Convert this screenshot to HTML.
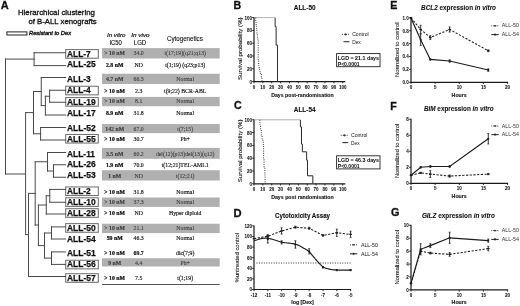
<!DOCTYPE html>
<html><head><meta charset="utf-8"><style>
html,body{margin:0;padding:0;background:#fff;overflow:hidden;}
svg{display:block;font-family:"Liberation Sans",sans-serif;}
</style></head><body>
<svg width="520" height="306" viewBox="0 0 520 306" fill="#111">
<defs><filter id="b" x="0" y="0" width="520" height="306" filterUnits="userSpaceOnUse"><feGaussianBlur stdDeviation="0.3"/></filter></defs>
<g filter="url(#b)">
<rect x="0" y="0" width="520" height="306" fill="#fff"/>
<text x="0.80" y="9.30" font-size="11.0" font-weight="bold" stroke="#111" stroke-width="0.3">A</text>
<text x="17.90" y="14.50" font-size="7.6" textLength="77.00" lengthAdjust="spacingAndGlyphs" stroke="#111" stroke-width="0.3">Hierarchical clustering</text>
<text x="28.50" y="24.30" font-size="7.5" textLength="68.20" lengthAdjust="spacingAndGlyphs" stroke="#111" stroke-width="0.3">of B-ALL xenografts</text>
<rect x="6.90" y="31.90" width="20.00" height="3.10" fill="#fff" stroke="#222" stroke-width="1.0"/>
<text x="29.00" y="35.40" font-size="5.6" font-style="italic" textLength="42.00" lengthAdjust="spacingAndGlyphs" stroke="#111" stroke-width="0.35">Resistant to Dex</text>
<text x="107.00" y="37.10" font-size="6.2" font-style="italic" textLength="18.50" lengthAdjust="spacingAndGlyphs" stroke="#111" stroke-width="0.2">In vitro</text>
<text x="109.40" y="44.60" font-size="6.4" textLength="12.40" lengthAdjust="spacingAndGlyphs" stroke="#111" stroke-width="0.12">IC50</text>
<text x="131.30" y="37.10" font-size="6.2" font-style="italic" textLength="18.30" lengthAdjust="spacingAndGlyphs" stroke="#111" stroke-width="0.2">In vivo</text>
<text x="133.80" y="44.60" font-size="6.4" textLength="12.40" lengthAdjust="spacingAndGlyphs" stroke="#111" stroke-width="0.12">LGD</text>
<text x="167.00" y="40.50" font-size="6.3" textLength="35.80" lengthAdjust="spacingAndGlyphs" stroke="#111" stroke-width="0.12">Cytogenetics</text>
<rect x="102.00" y="48.10" width="117.70" height="10.40" fill="#b0b0b0" stroke="none" stroke-width="1"/>
<rect x="102.00" y="73.75" width="117.70" height="10.25" fill="#b0b0b0" stroke="none" stroke-width="1"/>
<rect x="102.00" y="96.90" width="117.70" height="9.35" fill="#b0b0b0" stroke="none" stroke-width="1"/>
<rect x="102.00" y="124.00" width="117.70" height="9.10" fill="#b0b0b0" stroke="none" stroke-width="1"/>
<rect x="102.00" y="147.90" width="117.70" height="10.90" fill="#b0b0b0" stroke="none" stroke-width="1"/>
<rect x="102.00" y="170.20" width="117.70" height="10.30" fill="#b0b0b0" stroke="none" stroke-width="1"/>
<rect x="102.00" y="197.50" width="117.70" height="9.40" fill="#b0b0b0" stroke="none" stroke-width="1"/>
<rect x="102.00" y="223.75" width="117.70" height="9.35" fill="#b0b0b0" stroke="none" stroke-width="1"/>
<rect x="102.00" y="258.25" width="117.70" height="8.25" fill="#b0b0b0" stroke="none" stroke-width="1"/>
<line x1="102.00" y1="284.50" x2="219.70" y2="284.50" stroke="#555" stroke-width="1.0"/>
<text x="114.70" y="55.30" font-size="5.8" font-weight="bold" text-anchor="middle" font-family="Liberation Serif" stroke="#3a3a3a" stroke-width="0.12" fill="#3a3a3a">&gt; 10 nM</text>
<text x="138.70" y="55.30" font-size="5.8" text-anchor="middle" font-family="Liberation Serif" stroke="#3a3a3a" stroke-width="0.08" fill="#3a3a3a">34.0</text>
<text x="185.20" y="55.30" font-size="5.8" text-anchor="middle" font-family="Liberation Serif" stroke="#3a3a3a" stroke-width="0.08" fill="#3a3a3a">t(17;19)(q21;q13)</text>
<text x="114.70" y="67.25" font-size="5.8" font-weight="bold" text-anchor="middle" font-family="Liberation Serif" stroke="#111" stroke-width="0.22">2.8 nM</text>
<text x="138.70" y="67.25" font-size="5.8" text-anchor="middle" font-family="Liberation Serif" stroke="#111" stroke-width="0.15">ND</text>
<text x="185.20" y="67.25" font-size="5.8" text-anchor="middle" font-family="Liberation Serif" stroke="#111" stroke-width="0.15">t(1;19) (q23;p13)</text>
<text x="114.70" y="81.20" font-size="5.8" font-weight="bold" text-anchor="middle" font-family="Liberation Serif" stroke="#3a3a3a" stroke-width="0.12" fill="#3a3a3a">4.7 nM</text>
<text x="138.70" y="81.20" font-size="5.8" text-anchor="middle" font-family="Liberation Serif" stroke="#3a3a3a" stroke-width="0.08" fill="#3a3a3a">66.3</text>
<text x="185.20" y="81.20" font-size="5.8" text-anchor="middle" font-family="Liberation Serif" stroke="#3a3a3a" stroke-width="0.08" fill="#3a3a3a">Normal</text>
<text x="114.70" y="92.60" font-size="5.8" font-weight="bold" text-anchor="middle" font-family="Liberation Serif" stroke="#111" stroke-width="0.22">&gt; 10 nM</text>
<text x="138.70" y="92.60" font-size="5.8" text-anchor="middle" font-family="Liberation Serif" stroke="#111" stroke-width="0.15">2.3</text>
<text x="185.20" y="92.60" font-size="5.8" text-anchor="middle" font-family="Liberation Serif" stroke="#111" stroke-width="0.15">t(9;22) BCR-ABL</text>
<text x="114.70" y="102.90" font-size="5.8" font-weight="bold" text-anchor="middle" font-family="Liberation Serif" stroke="#3a3a3a" stroke-width="0.12" fill="#3a3a3a">&gt; 10 nM</text>
<text x="138.70" y="102.90" font-size="5.8" text-anchor="middle" font-family="Liberation Serif" stroke="#3a3a3a" stroke-width="0.08" fill="#3a3a3a">8.1</text>
<text x="185.20" y="102.90" font-size="5.8" text-anchor="middle" font-family="Liberation Serif" stroke="#3a3a3a" stroke-width="0.08" fill="#3a3a3a">Normal</text>
<text x="114.70" y="114.50" font-size="5.8" font-weight="bold" text-anchor="middle" font-family="Liberation Serif" stroke="#111" stroke-width="0.22">8.9 nM</text>
<text x="138.70" y="114.50" font-size="5.8" text-anchor="middle" font-family="Liberation Serif" stroke="#111" stroke-width="0.15">31.8</text>
<text x="185.20" y="114.50" font-size="5.8" text-anchor="middle" font-family="Liberation Serif" stroke="#111" stroke-width="0.15">Normal</text>
<text x="114.70" y="130.60" font-size="5.8" font-weight="bold" text-anchor="middle" font-family="Liberation Serif" stroke="#3a3a3a" stroke-width="0.12" fill="#3a3a3a">142 nM</text>
<text x="138.70" y="130.60" font-size="5.8" text-anchor="middle" font-family="Liberation Serif" stroke="#3a3a3a" stroke-width="0.08" fill="#3a3a3a">67.0</text>
<text x="185.20" y="130.60" font-size="5.8" text-anchor="middle" font-family="Liberation Serif" stroke="#3a3a3a" stroke-width="0.08" fill="#3a3a3a">t(7;15)</text>
<text x="114.70" y="141.00" font-size="5.8" font-weight="bold" text-anchor="middle" font-family="Liberation Serif" stroke="#111" stroke-width="0.22">&gt; 10 nM</text>
<text x="138.70" y="141.00" font-size="5.8" text-anchor="middle" font-family="Liberation Serif" stroke="#111" stroke-width="0.15">30.7</text>
<text x="185.20" y="141.00" font-size="5.8" text-anchor="middle" font-family="Liberation Serif" stroke="#111" stroke-width="0.15">Ph+</text>
<text x="114.70" y="156.30" font-size="5.8" font-weight="bold" text-anchor="middle" font-family="Liberation Serif" stroke="#3a3a3a" stroke-width="0.12" fill="#3a3a3a">3.5 nM</text>
<text x="138.70" y="156.30" font-size="5.8" text-anchor="middle" font-family="Liberation Serif" stroke="#3a3a3a" stroke-width="0.08" fill="#3a3a3a">60.2</text>
<text x="185.20" y="156.30" font-size="5.8" text-anchor="middle" font-family="Liberation Serif" stroke="#3a3a3a" stroke-width="0.08" fill="#3a3a3a">del(12)(p13)del(13)(q12)</text>
<text x="114.70" y="167.00" font-size="5.8" font-weight="bold" text-anchor="middle" font-family="Liberation Serif" stroke="#111" stroke-width="0.22">1.9 nM</text>
<text x="138.70" y="167.00" font-size="5.8" text-anchor="middle" font-family="Liberation Serif" stroke="#111" stroke-width="0.15">70.0</text>
<text x="185.20" y="167.00" font-size="5.8" text-anchor="middle" font-family="Liberation Serif" stroke="#111" stroke-width="0.15">t(12;21)TEL-AML1</text>
<text x="114.70" y="177.60" font-size="5.8" font-weight="bold" text-anchor="middle" font-family="Liberation Serif" stroke="#3a3a3a" stroke-width="0.12" fill="#3a3a3a">1 nM</text>
<text x="138.70" y="177.60" font-size="5.8" text-anchor="middle" font-family="Liberation Serif" stroke="#3a3a3a" stroke-width="0.08" fill="#3a3a3a">ND</text>
<text x="185.20" y="177.60" font-size="5.8" text-anchor="middle" font-family="Liberation Serif" stroke="#3a3a3a" stroke-width="0.08" fill="#3a3a3a">t(12;21)</text>
<text x="114.70" y="194.30" font-size="5.8" font-weight="bold" text-anchor="middle" font-family="Liberation Serif" stroke="#111" stroke-width="0.22">&gt; 10 nM</text>
<text x="138.70" y="194.30" font-size="5.8" text-anchor="middle" font-family="Liberation Serif" stroke="#111" stroke-width="0.15">31.8</text>
<text x="185.20" y="194.30" font-size="5.8" text-anchor="middle" font-family="Liberation Serif" stroke="#111" stroke-width="0.15">Normal</text>
<text x="114.70" y="203.70" font-size="5.8" font-weight="bold" text-anchor="middle" font-family="Liberation Serif" stroke="#3a3a3a" stroke-width="0.12" fill="#3a3a3a">&gt; 10 nM</text>
<text x="138.70" y="203.70" font-size="5.8" text-anchor="middle" font-family="Liberation Serif" stroke="#3a3a3a" stroke-width="0.08" fill="#3a3a3a">37.3</text>
<text x="185.20" y="203.70" font-size="5.8" text-anchor="middle" font-family="Liberation Serif" stroke="#3a3a3a" stroke-width="0.08" fill="#3a3a3a">Normal</text>
<text x="114.70" y="214.50" font-size="5.8" font-weight="bold" text-anchor="middle" font-family="Liberation Serif" stroke="#111" stroke-width="0.22">&gt; 10 nM</text>
<text x="138.70" y="214.50" font-size="5.8" text-anchor="middle" font-family="Liberation Serif" stroke="#111" stroke-width="0.15">ND</text>
<text x="185.20" y="214.50" font-size="5.8" text-anchor="middle" font-family="Liberation Serif" stroke="#111" stroke-width="0.15">Hyper diploid</text>
<text x="114.70" y="230.10" font-size="5.8" font-weight="bold" text-anchor="middle" font-family="Liberation Serif" stroke="#3a3a3a" stroke-width="0.12" fill="#3a3a3a">&gt; 10 nM</text>
<text x="138.70" y="230.10" font-size="5.8" text-anchor="middle" font-family="Liberation Serif" stroke="#3a3a3a" stroke-width="0.08" fill="#3a3a3a">21.1</text>
<text x="185.20" y="230.10" font-size="5.8" text-anchor="middle" font-family="Liberation Serif" stroke="#3a3a3a" stroke-width="0.08" fill="#3a3a3a">Normal</text>
<text x="114.70" y="239.90" font-size="5.8" font-weight="bold" text-anchor="middle" font-family="Liberation Serif" stroke="#111" stroke-width="0.22">59 nM</text>
<text x="138.70" y="239.90" font-size="5.8" text-anchor="middle" font-family="Liberation Serif" stroke="#111" stroke-width="0.15">46.3</text>
<text x="185.20" y="239.90" font-size="5.8" text-anchor="middle" font-family="Liberation Serif" stroke="#111" stroke-width="0.15">Normal</text>
<text x="114.70" y="254.90" font-size="5.8" font-weight="bold" text-anchor="middle" font-family="Liberation Serif" stroke="#111" stroke-width="0.22">&gt; 10 nM</text>
<text x="138.70" y="254.90" font-size="5.8" font-weight="bold" text-anchor="middle" font-family="Liberation Serif" stroke="#111" stroke-width="0.15">69.7</text>
<text x="185.20" y="254.90" font-size="5.8" text-anchor="middle" font-family="Liberation Serif" stroke="#111" stroke-width="0.15">dic(7;9)</text>
<text x="114.70" y="265.40" font-size="5.8" font-weight="bold" text-anchor="middle" font-family="Liberation Serif" stroke="#3a3a3a" stroke-width="0.12" fill="#3a3a3a">9 nM</text>
<text x="138.70" y="265.40" font-size="5.8" text-anchor="middle" font-family="Liberation Serif" stroke="#3a3a3a" stroke-width="0.08" fill="#3a3a3a">4.4</text>
<text x="185.20" y="265.40" font-size="5.8" text-anchor="middle" font-family="Liberation Serif" stroke="#3a3a3a" stroke-width="0.08" fill="#3a3a3a">Ph+</text>
<text x="114.70" y="279.75" font-size="5.8" font-weight="bold" text-anchor="middle" font-family="Liberation Serif" stroke="#111" stroke-width="0.22">&gt; 10 nM</text>
<text x="138.70" y="279.75" font-size="5.8" text-anchor="middle" font-family="Liberation Serif" stroke="#111" stroke-width="0.15">7.5</text>
<text x="185.20" y="279.75" font-size="5.8" text-anchor="middle" font-family="Liberation Serif" stroke="#111" stroke-width="0.15">t(1;19)</text>
<rect x="65.70" y="49.60" width="32.60" height="8.60" fill="#fff" stroke="#6a6a6a" stroke-width="1.0"/>
<text x="67.00" y="56.75" font-size="8.6" font-weight="bold" textLength="23.75" lengthAdjust="spacingAndGlyphs" stroke="#111" stroke-width="0.25">ALL-7</text>
<text x="67.00" y="67.25" font-size="8.6" font-weight="bold" textLength="28.70" lengthAdjust="spacingAndGlyphs" stroke="#111" stroke-width="0.25">ALL-25</text>
<text x="67.00" y="81.65" font-size="8.6" font-weight="bold" textLength="23.75" lengthAdjust="spacingAndGlyphs" stroke="#111" stroke-width="0.25">ALL-3</text>
<rect x="65.70" y="86.25" width="32.60" height="8.60" fill="#fff" stroke="#6a6a6a" stroke-width="1.0"/>
<text x="67.00" y="93.40" font-size="8.6" font-weight="bold" textLength="23.75" lengthAdjust="spacingAndGlyphs" stroke="#111" stroke-width="0.25">ALL-4</text>
<rect x="65.70" y="97.60" width="32.60" height="8.60" fill="#fff" stroke="#6a6a6a" stroke-width="1.0"/>
<text x="67.00" y="104.75" font-size="8.6" font-weight="bold" textLength="28.70" lengthAdjust="spacingAndGlyphs" stroke="#111" stroke-width="0.25">ALL-19</text>
<text x="67.00" y="115.80" font-size="8.6" font-weight="bold" textLength="28.70" lengthAdjust="spacingAndGlyphs" stroke="#111" stroke-width="0.25">ALL-17</text>
<text x="67.00" y="131.05" font-size="8.6" font-weight="bold" textLength="28.70" lengthAdjust="spacingAndGlyphs" stroke="#111" stroke-width="0.25">ALL-52</text>
<rect x="65.70" y="134.45" width="32.60" height="8.60" fill="#fff" stroke="#6a6a6a" stroke-width="1.0"/>
<text x="67.00" y="141.60" font-size="8.6" font-weight="bold" textLength="28.70" lengthAdjust="spacingAndGlyphs" stroke="#111" stroke-width="0.25">ALL-55</text>
<text x="67.00" y="156.60" font-size="8.6" font-weight="bold" textLength="28.04" lengthAdjust="spacingAndGlyphs" stroke="#111" stroke-width="0.25">ALL-11</text>
<text x="67.00" y="167.45" font-size="8.6" font-weight="bold" textLength="28.70" lengthAdjust="spacingAndGlyphs" stroke="#111" stroke-width="0.25">ALL-26</text>
<text x="67.00" y="178.30" font-size="8.6" font-weight="bold" textLength="28.70" lengthAdjust="spacingAndGlyphs" stroke="#111" stroke-width="0.25">ALL-53</text>
<rect x="65.70" y="186.95" width="32.60" height="8.60" fill="#fff" stroke="#6a6a6a" stroke-width="1.0"/>
<text x="67.00" y="194.10" font-size="8.6" font-weight="bold" textLength="23.75" lengthAdjust="spacingAndGlyphs" stroke="#111" stroke-width="0.25">ALL-2</text>
<rect x="65.70" y="197.80" width="32.60" height="8.60" fill="#fff" stroke="#6a6a6a" stroke-width="1.0"/>
<text x="67.00" y="204.95" font-size="8.6" font-weight="bold" textLength="28.70" lengthAdjust="spacingAndGlyphs" stroke="#111" stroke-width="0.25">ALL-10</text>
<rect x="65.70" y="208.70" width="32.60" height="8.60" fill="#fff" stroke="#6a6a6a" stroke-width="1.0"/>
<text x="67.00" y="215.85" font-size="8.6" font-weight="bold" textLength="28.70" lengthAdjust="spacingAndGlyphs" stroke="#111" stroke-width="0.25">ALL-28</text>
<rect x="65.70" y="223.65" width="32.60" height="8.60" fill="#fff" stroke="#6a6a6a" stroke-width="1.0"/>
<text x="67.00" y="230.80" font-size="8.6" font-weight="bold" textLength="28.70" lengthAdjust="spacingAndGlyphs" stroke="#111" stroke-width="0.25">ALL-50</text>
<text x="67.00" y="241.60" font-size="8.6" font-weight="bold" textLength="28.70" lengthAdjust="spacingAndGlyphs" stroke="#111" stroke-width="0.25">ALL-54</text>
<text x="67.00" y="256.25" font-size="8.6" font-weight="bold" textLength="28.70" lengthAdjust="spacingAndGlyphs" stroke="#111" stroke-width="0.25">ALL-51</text>
<rect x="65.70" y="260.25" width="32.60" height="8.60" fill="#fff" stroke="#6a6a6a" stroke-width="1.0"/>
<text x="67.00" y="267.40" font-size="8.6" font-weight="bold" textLength="28.70" lengthAdjust="spacingAndGlyphs" stroke="#111" stroke-width="0.25">ALL-56</text>
<rect x="65.70" y="273.70" width="32.60" height="8.60" fill="#fff" stroke="#6a6a6a" stroke-width="1.0"/>
<text x="67.00" y="280.85" font-size="8.6" font-weight="bold" textLength="28.70" lengthAdjust="spacingAndGlyphs" stroke="#111" stroke-width="0.25">ALL-57</text>
<path d="M34.1,52.75V65.6M34.1,52.75H65.6M34.1,65.6H65.6M5.5,59.1V174M5.5,59.1H34.1M5.5,174H25.6M49.6,90.25V102.25M49.6,90.25H65.6M49.6,102.25H65.6M45.4,96.25V115M45.4,96.25H49.6M45.4,115H65.6M41.25,77.5V105.6M41.25,77.5H65.6M41.25,105.6H45.4M33.5,91.5V133.75M33.5,91.5H41.25M40.6,127.5V140M40.6,127.5H65.6M40.6,140H65.6M33.5,133.75H40.6M25.6,112.6V234.6M25.6,112.6H33.5M25.6,234.6H28.5M53.5,164.75V177.25M53.5,164.75H65.6M53.5,177.25H65.6M47.5,152.5V171M47.5,152.5H65.6M47.5,171H53.5M35.2,161.75V225M35.2,161.75H47.5M49.75,189.4V202.25M49.75,189.4H65.6M49.75,202.25H65.6M46.25,195.8V214M46.25,195.8H49.75M46.25,214H65.6M38.4,205V245.6M38.4,205H46.25M35.2,225H38.4M51.5,226.9V239M51.5,226.9H65.6M51.5,239H65.6M51.5,251.9V264.4M51.5,251.9H65.6M51.5,264.4H65.6M44.5,233V258.1M44.5,233H51.5M44.5,258.1H51.5M38.4,245.6H44.5M28.5,193.4V276.5M28.5,193.4H35.2M28.5,276.5H65.6" fill="none" stroke="#4a4a4a" stroke-width="1.0" stroke-linecap="square"/>
<text x="233.60" y="8.70" font-size="10.6" font-weight="bold" stroke="#111" stroke-width="0.3">B</text>
<text x="293.80" y="10.00" font-size="6.5" font-weight="bold" textLength="21.80" lengthAdjust="spacingAndGlyphs" stroke="#111" stroke-width="0.1">ALL-50</text>
<path d="M254.0,17.1V81.6H345.361" fill="none" stroke="#1a1a1a" stroke-width="1.2"/>
<line x1="252.10" y1="81.60" x2="254.00" y2="81.60" stroke="#1a1a1a" stroke-width="0.9"/>
<text x="251.90" y="83.50" font-size="4.5" font-weight="bold" text-anchor="end" stroke="#111" stroke-width="0.05">0</text>
<line x1="252.10" y1="68.80" x2="254.00" y2="68.80" stroke="#1a1a1a" stroke-width="0.9"/>
<text x="251.90" y="70.70" font-size="4.5" font-weight="bold" text-anchor="end" stroke="#111" stroke-width="0.05">20</text>
<line x1="252.10" y1="56.00" x2="254.00" y2="56.00" stroke="#1a1a1a" stroke-width="0.9"/>
<text x="251.90" y="57.90" font-size="4.5" font-weight="bold" text-anchor="end" stroke="#111" stroke-width="0.05">40</text>
<line x1="252.10" y1="43.20" x2="254.00" y2="43.20" stroke="#1a1a1a" stroke-width="0.9"/>
<text x="251.90" y="45.10" font-size="4.5" font-weight="bold" text-anchor="end" stroke="#111" stroke-width="0.05">60</text>
<line x1="252.10" y1="30.40" x2="254.00" y2="30.40" stroke="#1a1a1a" stroke-width="0.9"/>
<text x="251.90" y="32.30" font-size="4.5" font-weight="bold" text-anchor="end" stroke="#111" stroke-width="0.05">80</text>
<line x1="252.10" y1="17.60" x2="254.00" y2="17.60" stroke="#1a1a1a" stroke-width="0.9"/>
<text x="251.90" y="19.50" font-size="4.5" font-weight="bold" text-anchor="end" stroke="#111" stroke-width="0.05">100</text>
<line x1="254.00" y1="81.60" x2="254.00" y2="83.30" stroke="#1a1a1a" stroke-width="0.9"/>
<text x="254.00" y="88.60" font-size="4.5" font-weight="bold" text-anchor="middle" stroke="#111" stroke-width="0.05">0</text>
<line x1="262.87" y1="81.60" x2="262.87" y2="83.30" stroke="#1a1a1a" stroke-width="0.9"/>
<text x="262.87" y="88.60" font-size="4.5" font-weight="bold" text-anchor="middle" stroke="#111" stroke-width="0.05">10</text>
<line x1="271.74" y1="81.60" x2="271.74" y2="83.30" stroke="#1a1a1a" stroke-width="0.9"/>
<text x="271.74" y="88.60" font-size="4.5" font-weight="bold" text-anchor="middle" stroke="#111" stroke-width="0.05">20</text>
<line x1="280.61" y1="81.60" x2="280.61" y2="83.30" stroke="#1a1a1a" stroke-width="0.9"/>
<text x="280.61" y="88.60" font-size="4.5" font-weight="bold" text-anchor="middle" stroke="#111" stroke-width="0.05">30</text>
<line x1="289.48" y1="81.60" x2="289.48" y2="83.30" stroke="#1a1a1a" stroke-width="0.9"/>
<text x="289.48" y="88.60" font-size="4.5" font-weight="bold" text-anchor="middle" stroke="#111" stroke-width="0.05">40</text>
<line x1="298.35" y1="81.60" x2="298.35" y2="83.30" stroke="#1a1a1a" stroke-width="0.9"/>
<text x="298.35" y="88.60" font-size="4.5" font-weight="bold" text-anchor="middle" stroke="#111" stroke-width="0.05">50</text>
<line x1="307.22" y1="81.60" x2="307.22" y2="83.30" stroke="#1a1a1a" stroke-width="0.9"/>
<text x="307.22" y="88.60" font-size="4.5" font-weight="bold" text-anchor="middle" stroke="#111" stroke-width="0.05">60</text>
<line x1="316.09" y1="81.60" x2="316.09" y2="83.30" stroke="#1a1a1a" stroke-width="0.9"/>
<text x="316.09" y="88.60" font-size="4.5" font-weight="bold" text-anchor="middle" stroke="#111" stroke-width="0.05">70</text>
<line x1="324.96" y1="81.60" x2="324.96" y2="83.30" stroke="#1a1a1a" stroke-width="0.9"/>
<text x="324.96" y="88.60" font-size="4.5" font-weight="bold" text-anchor="middle" stroke="#111" stroke-width="0.05">80</text>
<line x1="333.83" y1="81.60" x2="333.83" y2="83.30" stroke="#1a1a1a" stroke-width="0.9"/>
<text x="333.83" y="88.60" font-size="4.5" font-weight="bold" text-anchor="middle" stroke="#111" stroke-width="0.05">90</text>
<line x1="342.70" y1="81.60" x2="342.70" y2="83.30" stroke="#1a1a1a" stroke-width="0.9"/>
<text x="342.70" y="88.60" font-size="4.5" font-weight="bold" text-anchor="middle" stroke="#111" stroke-width="0.05">100</text>
<text x="271.20" y="96.60" font-size="5.4" font-weight="bold" textLength="62.50" lengthAdjust="spacingAndGlyphs" stroke="#111" stroke-width="0.1">Days post-randomisation</text>
<text transform="translate(241.90,48.70) rotate(-90)" font-size="6.1" stroke="#111" stroke-width="0.1" text-anchor="middle" textLength="62.7" lengthAdjust="spacingAndGlyphs">Survival probability (%)</text>
<path d="M275.14,17.60H275.14V26.56H276.12V26.56H276.12V45.12H277.54V45.12H277.54V81.60" fill="none" stroke="#2a2a2a" stroke-width="1.0"/>
<line x1="254.50" y1="17.60" x2="274.84" y2="17.60" stroke="#b0b0b0" stroke-width="1.0"/>
<path d="M255.72,17.60H255.72V17.60H255.72V22.08H256.16V22.08H256.16V26.56H256.61V26.56H256.61V30.40H256.96V30.40H256.96V33.60H257.40V33.60H257.40V37.44H257.85V37.44H257.85V40.64H258.20V40.64H258.20V59.84H258.65V59.84H258.65V65.60H259.18V65.60H259.18V68.80H259.71V68.80H259.71V71.36H260.33V71.36H260.33V73.92H261.40V73.92H261.40V78.40H262.02V78.40H262.02V81.60" fill="none" stroke="#333" stroke-width="1.0" stroke-dasharray="1.0,1.3"/>
<path d="M341.9,34.4H349.4" fill="none" stroke="#333" stroke-width="0.9" stroke-dasharray="1,1"/>
<line x1="345.60" y1="33.20" x2="345.60" y2="35.60" stroke="#333" stroke-width="0.8"/>
<line x1="344.40" y1="34.40" x2="346.80" y2="34.40" stroke="#333" stroke-width="1.0"/>
<text x="352.20" y="36.40" font-size="5.3" textLength="16.40" lengthAdjust="spacingAndGlyphs">Control</text>
<line x1="343.50" y1="41.70" x2="349.40" y2="41.70" stroke="#333" stroke-width="1.1"/>
<text x="352.20" y="43.60" font-size="5.3" textLength="8.60" lengthAdjust="spacingAndGlyphs">Dex</text>
<rect x="336.60" y="53.60" width="43.40" height="13.10" fill="#fff" stroke="#222" stroke-width="0.9"/>
<text x="337.80" y="59.70" font-size="5.3" font-weight="bold" textLength="41.20" lengthAdjust="spacingAndGlyphs" stroke="#111" stroke-width="0.03">LGD = 21.1 days</text>
<text x="337.80" y="65.50" font-size="5.3" font-weight="bold" textLength="21.80" lengthAdjust="spacingAndGlyphs" stroke="#111" stroke-width="0.03">P&lt;0.0001</text>
<text x="234.00" y="109.30" font-size="10.6" font-weight="bold" stroke="#111" stroke-width="0.3">C</text>
<text x="293.80" y="112.20" font-size="6.5" font-weight="bold" textLength="21.80" lengthAdjust="spacingAndGlyphs" stroke="#111" stroke-width="0.1">ALL-54</text>
<path d="M254.0,119.30000000000001V183.8H345.361" fill="none" stroke="#1a1a1a" stroke-width="1.2"/>
<line x1="252.10" y1="183.80" x2="254.00" y2="183.80" stroke="#1a1a1a" stroke-width="0.9"/>
<text x="251.90" y="185.70" font-size="4.5" font-weight="bold" text-anchor="end" stroke="#111" stroke-width="0.05">0</text>
<line x1="252.10" y1="171.00" x2="254.00" y2="171.00" stroke="#1a1a1a" stroke-width="0.9"/>
<text x="251.90" y="172.90" font-size="4.5" font-weight="bold" text-anchor="end" stroke="#111" stroke-width="0.05">20</text>
<line x1="252.10" y1="158.20" x2="254.00" y2="158.20" stroke="#1a1a1a" stroke-width="0.9"/>
<text x="251.90" y="160.10" font-size="4.5" font-weight="bold" text-anchor="end" stroke="#111" stroke-width="0.05">40</text>
<line x1="252.10" y1="145.40" x2="254.00" y2="145.40" stroke="#1a1a1a" stroke-width="0.9"/>
<text x="251.90" y="147.30" font-size="4.5" font-weight="bold" text-anchor="end" stroke="#111" stroke-width="0.05">60</text>
<line x1="252.10" y1="132.60" x2="254.00" y2="132.60" stroke="#1a1a1a" stroke-width="0.9"/>
<text x="251.90" y="134.50" font-size="4.5" font-weight="bold" text-anchor="end" stroke="#111" stroke-width="0.05">80</text>
<line x1="252.10" y1="119.80" x2="254.00" y2="119.80" stroke="#1a1a1a" stroke-width="0.9"/>
<text x="251.90" y="121.70" font-size="4.5" font-weight="bold" text-anchor="end" stroke="#111" stroke-width="0.05">100</text>
<line x1="254.00" y1="183.80" x2="254.00" y2="185.50" stroke="#1a1a1a" stroke-width="0.9"/>
<text x="254.00" y="190.80" font-size="4.5" font-weight="bold" text-anchor="middle" stroke="#111" stroke-width="0.05">0</text>
<line x1="262.87" y1="183.80" x2="262.87" y2="185.50" stroke="#1a1a1a" stroke-width="0.9"/>
<text x="262.87" y="190.80" font-size="4.5" font-weight="bold" text-anchor="middle" stroke="#111" stroke-width="0.05">10</text>
<line x1="271.74" y1="183.80" x2="271.74" y2="185.50" stroke="#1a1a1a" stroke-width="0.9"/>
<text x="271.74" y="190.80" font-size="4.5" font-weight="bold" text-anchor="middle" stroke="#111" stroke-width="0.05">20</text>
<line x1="280.61" y1="183.80" x2="280.61" y2="185.50" stroke="#1a1a1a" stroke-width="0.9"/>
<text x="280.61" y="190.80" font-size="4.5" font-weight="bold" text-anchor="middle" stroke="#111" stroke-width="0.05">30</text>
<line x1="289.48" y1="183.80" x2="289.48" y2="185.50" stroke="#1a1a1a" stroke-width="0.9"/>
<text x="289.48" y="190.80" font-size="4.5" font-weight="bold" text-anchor="middle" stroke="#111" stroke-width="0.05">40</text>
<line x1="298.35" y1="183.80" x2="298.35" y2="185.50" stroke="#1a1a1a" stroke-width="0.9"/>
<text x="298.35" y="190.80" font-size="4.5" font-weight="bold" text-anchor="middle" stroke="#111" stroke-width="0.05">50</text>
<line x1="307.22" y1="183.80" x2="307.22" y2="185.50" stroke="#1a1a1a" stroke-width="0.9"/>
<text x="307.22" y="190.80" font-size="4.5" font-weight="bold" text-anchor="middle" stroke="#111" stroke-width="0.05">60</text>
<line x1="316.09" y1="183.80" x2="316.09" y2="185.50" stroke="#1a1a1a" stroke-width="0.9"/>
<text x="316.09" y="190.80" font-size="4.5" font-weight="bold" text-anchor="middle" stroke="#111" stroke-width="0.05">70</text>
<line x1="324.96" y1="183.80" x2="324.96" y2="185.50" stroke="#1a1a1a" stroke-width="0.9"/>
<text x="324.96" y="190.80" font-size="4.5" font-weight="bold" text-anchor="middle" stroke="#111" stroke-width="0.05">80</text>
<line x1="333.83" y1="183.80" x2="333.83" y2="185.50" stroke="#1a1a1a" stroke-width="0.9"/>
<text x="333.83" y="190.80" font-size="4.5" font-weight="bold" text-anchor="middle" stroke="#111" stroke-width="0.05">90</text>
<line x1="342.70" y1="183.80" x2="342.70" y2="185.50" stroke="#1a1a1a" stroke-width="0.9"/>
<text x="342.70" y="190.80" font-size="4.5" font-weight="bold" text-anchor="middle" stroke="#111" stroke-width="0.05">100</text>
<text x="271.20" y="198.80" font-size="5.4" font-weight="bold" textLength="62.50" lengthAdjust="spacingAndGlyphs" stroke="#111" stroke-width="0.1">Days post randomisation</text>
<text transform="translate(241.90,150.90) rotate(-90)" font-size="6.1" stroke="#111" stroke-width="0.1" text-anchor="middle" textLength="62.7" lengthAdjust="spacingAndGlyphs">Survival probability (%)</text>
<path d="M300.42,119.80H300.42V126.84H301.49V126.84H301.49V144.12H302.38V144.12H302.38V151.80H306.63V151.80H306.63V160.12H307.52V160.12H307.52V175.80H312.84V175.80H312.84V183.80" fill="none" stroke="#2a2a2a" stroke-width="1.0"/>
<line x1="254.50" y1="119.80" x2="300.12" y2="119.80" stroke="#b0b0b0" stroke-width="1.0"/>
<path d="M259.89,119.80H259.89V119.80H259.89V124.92H260.60V124.92H260.60V130.04H261.22V130.04H261.22V135.16H262.11V135.16H262.11V140.28H263.26V140.28H263.26V146.04H263.61V146.04H263.61V158.20H264.06V158.20H264.06V167.80H264.86V167.80H264.86V174.84H265.12V174.84H265.12V183.80" fill="none" stroke="#333" stroke-width="1.0" stroke-dasharray="1.0,1.3"/>
<path d="M340.7,135.3H348.2" fill="none" stroke="#333" stroke-width="0.9" stroke-dasharray="1,1"/>
<line x1="344.40" y1="134.10" x2="344.40" y2="136.50" stroke="#333" stroke-width="0.8"/>
<line x1="343.20" y1="135.30" x2="345.60" y2="135.30" stroke="#333" stroke-width="1.0"/>
<text x="351.00" y="137.30" font-size="5.3" textLength="16.40" lengthAdjust="spacingAndGlyphs">Control</text>
<line x1="342.30" y1="142.60" x2="348.20" y2="142.60" stroke="#333" stroke-width="1.1"/>
<text x="351.00" y="144.50" font-size="5.3" textLength="8.60" lengthAdjust="spacingAndGlyphs">Dex</text>
<rect x="336.60" y="155.80" width="43.40" height="13.10" fill="#fff" stroke="#222" stroke-width="0.9"/>
<text x="337.80" y="162.30" font-size="5.3" font-weight="bold" textLength="41.20" lengthAdjust="spacingAndGlyphs" stroke="#111" stroke-width="0.03">LGD = 46.3 days</text>
<text x="337.80" y="168.10" font-size="5.3" font-weight="bold" textLength="21.80" lengthAdjust="spacingAndGlyphs" stroke="#111" stroke-width="0.03">P&lt;0.0001</text>
<text x="233.40" y="216.80" font-size="11.2" font-weight="bold" stroke="#111" stroke-width="0.3">D</text>
<text x="275.00" y="218.10" font-size="6.3" font-weight="bold" textLength="55.00" lengthAdjust="spacingAndGlyphs" stroke="#111" stroke-width="0.1">Cytotoxicity Assay</text>
<path d="M254.0,225.4V289.5H351.1" fill="none" stroke="#1a1a1a" stroke-width="1.2"/>
<line x1="252.10" y1="289.50" x2="254.00" y2="289.50" stroke="#1a1a1a" stroke-width="0.9"/>
<text x="251.90" y="291.40" font-size="4.5" font-weight="bold" text-anchor="end" stroke="#111" stroke-width="0.05">0</text>
<line x1="252.10" y1="278.90" x2="254.00" y2="278.90" stroke="#1a1a1a" stroke-width="0.9"/>
<text x="251.90" y="280.80" font-size="4.5" font-weight="bold" text-anchor="end" stroke="#111" stroke-width="0.05">20</text>
<line x1="252.10" y1="268.30" x2="254.00" y2="268.30" stroke="#1a1a1a" stroke-width="0.9"/>
<text x="251.90" y="270.20" font-size="4.5" font-weight="bold" text-anchor="end" stroke="#111" stroke-width="0.05">40</text>
<line x1="252.10" y1="257.70" x2="254.00" y2="257.70" stroke="#1a1a1a" stroke-width="0.9"/>
<text x="251.90" y="259.60" font-size="4.5" font-weight="bold" text-anchor="end" stroke="#111" stroke-width="0.05">60</text>
<line x1="252.10" y1="247.10" x2="254.00" y2="247.10" stroke="#1a1a1a" stroke-width="0.9"/>
<text x="251.90" y="249.00" font-size="4.5" font-weight="bold" text-anchor="end" stroke="#111" stroke-width="0.05">80</text>
<line x1="252.10" y1="236.50" x2="254.00" y2="236.50" stroke="#1a1a1a" stroke-width="0.9"/>
<text x="251.90" y="238.40" font-size="4.5" font-weight="bold" text-anchor="end" stroke="#111" stroke-width="0.05">100</text>
<line x1="252.10" y1="225.90" x2="254.00" y2="225.90" stroke="#1a1a1a" stroke-width="0.9"/>
<text x="251.90" y="227.80" font-size="4.5" font-weight="bold" text-anchor="end" stroke="#111" stroke-width="0.05">120</text>
<line x1="254.00" y1="289.50" x2="254.00" y2="291.20" stroke="#1a1a1a" stroke-width="0.9"/>
<text x="254.00" y="296.70" font-size="4.5" font-weight="bold" text-anchor="middle" stroke="#111" stroke-width="0.05">-12</text>
<line x1="267.80" y1="289.50" x2="267.80" y2="291.20" stroke="#1a1a1a" stroke-width="0.9"/>
<text x="267.80" y="296.70" font-size="4.5" font-weight="bold" text-anchor="middle" stroke="#111" stroke-width="0.05">-11</text>
<line x1="281.60" y1="289.50" x2="281.60" y2="291.20" stroke="#1a1a1a" stroke-width="0.9"/>
<text x="281.60" y="296.70" font-size="4.5" font-weight="bold" text-anchor="middle" stroke="#111" stroke-width="0.05">-10</text>
<line x1="295.40" y1="289.50" x2="295.40" y2="291.20" stroke="#1a1a1a" stroke-width="0.9"/>
<text x="295.40" y="296.70" font-size="4.5" font-weight="bold" text-anchor="middle" stroke="#111" stroke-width="0.05">-9</text>
<line x1="309.20" y1="289.50" x2="309.20" y2="291.20" stroke="#1a1a1a" stroke-width="0.9"/>
<text x="309.20" y="296.70" font-size="4.5" font-weight="bold" text-anchor="middle" stroke="#111" stroke-width="0.05">-8</text>
<line x1="323.00" y1="289.50" x2="323.00" y2="291.20" stroke="#1a1a1a" stroke-width="0.9"/>
<text x="323.00" y="296.70" font-size="4.5" font-weight="bold" text-anchor="middle" stroke="#111" stroke-width="0.05">-7</text>
<line x1="336.80" y1="289.50" x2="336.80" y2="291.20" stroke="#1a1a1a" stroke-width="0.9"/>
<text x="336.80" y="296.70" font-size="4.5" font-weight="bold" text-anchor="middle" stroke="#111" stroke-width="0.05">-6</text>
<line x1="350.60" y1="289.50" x2="350.60" y2="291.20" stroke="#1a1a1a" stroke-width="0.9"/>
<text x="350.60" y="296.70" font-size="4.5" font-weight="bold" text-anchor="middle" stroke="#111" stroke-width="0.05">-5</text>
<text x="291.20" y="304.30" font-size="5.4" font-weight="bold" textLength="22.60" lengthAdjust="spacingAndGlyphs" stroke="#111" stroke-width="0.1">log [Dex]</text>
<text transform="translate(239.10,257.70) rotate(-90)" font-size="6.0" stroke="#111" stroke-width="0.08" text-anchor="middle" textLength="49.8" lengthAdjust="spacingAndGlyphs">%untreated control</text>
<path d="M256.5,263.00H350.6" fill="none" stroke="#333" stroke-width="1.0" stroke-dasharray="1,1.45"/>
<path d="M254.00,238.62 L267.80,236.24 L281.60,230.94 L295.40,227.23 L309.20,228.28 L323.00,235.44 L336.80,232.79 L350.60,234.38" fill="none" stroke="#1a1a1a" stroke-width="1.05" stroke-dasharray="2.2,1.5"/>
<path d="M254.00,240.74 L254.73,240.55 L255.64,240.27 L256.73,239.93 L257.94,239.55 L259.26,239.17 L260.66,238.80 L262.10,238.48 L263.56,238.24 L265.01,238.10 L266.42,238.09 L267.83,238.23 L269.30,238.49 L270.81,238.85 L272.36,239.29 L273.92,239.78 L275.49,240.29 L277.06,240.80 L278.61,241.28 L280.13,241.71 L281.60,242.06 L283.06,242.34 L284.54,242.58 L286.02,242.78 L287.48,242.96 L288.93,243.12 L290.34,243.29 L291.71,243.47 L293.02,243.67 L294.25,243.91 L295.40,244.19 L296.46,244.51 L297.45,244.87 L298.38,245.25 L299.24,245.65 L300.06,246.07 L300.83,246.50 L301.57,246.93 L302.29,247.35 L302.99,247.76 L303.68,248.16 L304.34,248.52 L304.94,248.85 L305.50,249.16 L306.02,249.46 L306.53,249.77 L307.03,250.09 L307.53,250.45 L308.05,250.86 L308.60,251.33 L309.20,251.87 L309.83,252.50 L310.49,253.21 L311.17,253.98 L311.86,254.80 L312.56,255.65 L313.27,256.51 L313.99,257.38 L314.70,258.23 L315.40,259.05 L316.10,259.82 L316.79,260.57 L317.48,261.34 L318.17,262.10 L318.86,262.86 L319.55,263.60 L320.24,264.32 L320.93,265.00 L321.62,265.63 L322.31,266.20 L323.00,266.71 L323.69,267.15 L324.38,267.53 L325.07,267.85 L325.76,268.13 L326.45,268.37 L327.14,268.57 L327.83,268.76 L328.52,268.93 L329.21,269.09 L329.90,269.25 L330.56,269.40 L331.17,269.53 L331.75,269.63 L332.33,269.71 L332.92,269.78 L333.54,269.83 L334.22,269.88 L334.98,269.92 L335.83,269.96 L336.80,270.00 L337.96,270.03 L339.34,270.06 L340.87,270.08 L342.49,270.09 L344.13,270.10 L345.74,270.10 L347.26,270.10 L348.61,270.10 L349.75,270.10 L350.60,270.10" fill="none" stroke="#1a1a1a" stroke-width="1.15"/>
<line x1="252.70" y1="238.62" x2="255.30" y2="238.62" stroke="#1a1a1a" stroke-width="1.3"/>
<line x1="267.80" y1="234.65" x2="267.80" y2="237.83" stroke="#1a1a1a" stroke-width="0.9"/>
<line x1="266.80" y1="234.65" x2="268.80" y2="234.65" stroke="#1a1a1a" stroke-width="0.7"/>
<line x1="266.80" y1="237.83" x2="268.80" y2="237.83" stroke="#1a1a1a" stroke-width="0.7"/>
<line x1="266.50" y1="236.24" x2="269.10" y2="236.24" stroke="#1a1a1a" stroke-width="1.3"/>
<line x1="281.60" y1="227.75" x2="281.60" y2="234.12" stroke="#1a1a1a" stroke-width="0.9"/>
<line x1="280.60" y1="227.75" x2="282.60" y2="227.75" stroke="#1a1a1a" stroke-width="0.7"/>
<line x1="280.60" y1="234.12" x2="282.60" y2="234.12" stroke="#1a1a1a" stroke-width="0.7"/>
<line x1="280.30" y1="230.94" x2="282.90" y2="230.94" stroke="#1a1a1a" stroke-width="1.3"/>
<line x1="295.40" y1="226.17" x2="295.40" y2="228.28" stroke="#1a1a1a" stroke-width="0.9"/>
<line x1="294.40" y1="226.17" x2="296.40" y2="226.17" stroke="#1a1a1a" stroke-width="0.7"/>
<line x1="294.40" y1="228.28" x2="296.40" y2="228.28" stroke="#1a1a1a" stroke-width="0.7"/>
<line x1="294.10" y1="227.23" x2="296.70" y2="227.23" stroke="#1a1a1a" stroke-width="1.3"/>
<line x1="309.20" y1="227.23" x2="309.20" y2="229.34" stroke="#1a1a1a" stroke-width="0.9"/>
<line x1="308.20" y1="227.23" x2="310.20" y2="227.23" stroke="#1a1a1a" stroke-width="0.7"/>
<line x1="308.20" y1="229.34" x2="310.20" y2="229.34" stroke="#1a1a1a" stroke-width="0.7"/>
<line x1="307.90" y1="228.28" x2="310.50" y2="228.28" stroke="#1a1a1a" stroke-width="1.3"/>
<line x1="323.00" y1="234.65" x2="323.00" y2="236.24" stroke="#1a1a1a" stroke-width="0.9"/>
<line x1="322.00" y1="234.65" x2="324.00" y2="234.65" stroke="#1a1a1a" stroke-width="0.7"/>
<line x1="322.00" y1="236.24" x2="324.00" y2="236.24" stroke="#1a1a1a" stroke-width="0.7"/>
<line x1="321.70" y1="235.44" x2="324.30" y2="235.44" stroke="#1a1a1a" stroke-width="1.3"/>
<line x1="336.80" y1="229.08" x2="336.80" y2="236.50" stroke="#1a1a1a" stroke-width="0.9"/>
<line x1="335.80" y1="229.08" x2="337.80" y2="229.08" stroke="#1a1a1a" stroke-width="0.7"/>
<line x1="335.80" y1="236.50" x2="337.80" y2="236.50" stroke="#1a1a1a" stroke-width="0.7"/>
<line x1="335.50" y1="232.79" x2="338.10" y2="232.79" stroke="#1a1a1a" stroke-width="1.3"/>
<line x1="350.60" y1="231.20" x2="350.60" y2="237.56" stroke="#1a1a1a" stroke-width="0.9"/>
<line x1="349.60" y1="231.20" x2="351.60" y2="231.20" stroke="#1a1a1a" stroke-width="0.7"/>
<line x1="349.60" y1="237.56" x2="351.60" y2="237.56" stroke="#1a1a1a" stroke-width="0.7"/>
<line x1="349.30" y1="234.38" x2="351.90" y2="234.38" stroke="#1a1a1a" stroke-width="1.3"/>
<line x1="267.80" y1="235.18" x2="267.80" y2="243.12" stroke="#1a1a1a" stroke-width="0.9"/>
<line x1="266.80" y1="235.18" x2="268.80" y2="235.18" stroke="#1a1a1a" stroke-width="0.7"/>
<line x1="266.80" y1="243.12" x2="268.80" y2="243.12" stroke="#1a1a1a" stroke-width="0.7"/>
<circle cx="267.80" cy="239.15" r="1.05" fill="#1a1a1a"/>
<line x1="281.60" y1="240.74" x2="281.60" y2="243.92" stroke="#1a1a1a" stroke-width="0.9"/>
<line x1="280.60" y1="240.74" x2="282.60" y2="240.74" stroke="#1a1a1a" stroke-width="0.7"/>
<line x1="280.60" y1="243.92" x2="282.60" y2="243.92" stroke="#1a1a1a" stroke-width="0.7"/>
<circle cx="281.60" cy="242.33" r="1.05" fill="#1a1a1a"/>
<line x1="295.40" y1="240.74" x2="295.40" y2="248.16" stroke="#1a1a1a" stroke-width="0.9"/>
<line x1="294.40" y1="240.74" x2="296.40" y2="240.74" stroke="#1a1a1a" stroke-width="0.7"/>
<line x1="294.40" y1="248.16" x2="296.40" y2="248.16" stroke="#1a1a1a" stroke-width="0.7"/>
<circle cx="295.40" cy="244.45" r="1.05" fill="#1a1a1a"/>
<line x1="309.20" y1="248.69" x2="309.20" y2="253.99" stroke="#1a1a1a" stroke-width="0.9"/>
<line x1="308.20" y1="248.69" x2="310.20" y2="248.69" stroke="#1a1a1a" stroke-width="0.7"/>
<line x1="308.20" y1="253.99" x2="310.20" y2="253.99" stroke="#1a1a1a" stroke-width="0.7"/>
<circle cx="309.20" cy="251.34" r="1.05" fill="#1a1a1a"/>
<line x1="323.00" y1="266.44" x2="323.00" y2="268.04" stroke="#1a1a1a" stroke-width="0.9"/>
<line x1="322.00" y1="266.44" x2="324.00" y2="266.44" stroke="#1a1a1a" stroke-width="0.7"/>
<line x1="322.00" y1="268.04" x2="324.00" y2="268.04" stroke="#1a1a1a" stroke-width="0.7"/>
<circle cx="323.00" cy="267.24" r="1.05" fill="#1a1a1a"/>
<line x1="336.80" y1="269.57" x2="336.80" y2="270.63" stroke="#1a1a1a" stroke-width="0.9"/>
<line x1="335.80" y1="269.57" x2="337.80" y2="269.57" stroke="#1a1a1a" stroke-width="0.7"/>
<line x1="335.80" y1="270.63" x2="337.80" y2="270.63" stroke="#1a1a1a" stroke-width="0.7"/>
<circle cx="336.80" cy="270.10" r="1.05" fill="#1a1a1a"/>
<line x1="350.60" y1="269.57" x2="350.60" y2="270.63" stroke="#1a1a1a" stroke-width="0.9"/>
<line x1="349.60" y1="269.57" x2="351.60" y2="269.57" stroke="#1a1a1a" stroke-width="0.7"/>
<line x1="349.60" y1="270.63" x2="351.60" y2="270.63" stroke="#1a1a1a" stroke-width="0.7"/>
<circle cx="350.60" cy="270.10" r="1.05" fill="#1a1a1a"/>
<path d="M350,244.8H357.3" fill="none" stroke="#333" stroke-width="0.9" stroke-dasharray="1,1"/>
<line x1="352.40" y1="244.80" x2="354.80" y2="244.80" stroke="#333" stroke-width="1.2"/>
<text x="360.90" y="246.70" font-size="5.3" textLength="17.00" lengthAdjust="spacingAndGlyphs">ALL-50</text>
<line x1="350.00" y1="253.80" x2="357.30" y2="253.80" stroke="#333" stroke-width="1.1"/>
<circle cx="353.6" cy="253.8" r="1" fill="#222"/>
<text x="360.90" y="255.70" font-size="5.3" textLength="17.00" lengthAdjust="spacingAndGlyphs">ALL-54</text>
<text x="390.30" y="8.60" font-size="10.6" font-weight="bold" stroke="#111" stroke-width="0.3">E</text>
<text x="421.10" y="9.50" font-size="6.4" font-weight="bold" stroke="#111" stroke-width="0.08" textLength="74.9" lengthAdjust="spacingAndGlyphs"><tspan font-style="italic">BCL2</tspan> expression <tspan font-style="italic">in vitro</tspan></text>
<path d="M411.0,17.4V82.3H508.1" fill="none" stroke="#1a1a1a" stroke-width="1.2"/>
<line x1="409.10" y1="82.30" x2="411.00" y2="82.30" stroke="#1a1a1a" stroke-width="0.9"/>
<text x="408.80" y="84.20" font-size="4.5" font-weight="bold" text-anchor="end" stroke="#111" stroke-width="0.05">0.0</text>
<line x1="409.10" y1="69.42" x2="411.00" y2="69.42" stroke="#1a1a1a" stroke-width="0.9"/>
<text x="408.80" y="71.32" font-size="4.5" font-weight="bold" text-anchor="end" stroke="#111" stroke-width="0.05">0.2</text>
<line x1="409.10" y1="56.54" x2="411.00" y2="56.54" stroke="#1a1a1a" stroke-width="0.9"/>
<text x="408.80" y="58.44" font-size="4.5" font-weight="bold" text-anchor="end" stroke="#111" stroke-width="0.05">0.4</text>
<line x1="409.10" y1="43.66" x2="411.00" y2="43.66" stroke="#1a1a1a" stroke-width="0.9"/>
<text x="408.80" y="45.56" font-size="4.5" font-weight="bold" text-anchor="end" stroke="#111" stroke-width="0.05">0.6</text>
<line x1="409.10" y1="30.78" x2="411.00" y2="30.78" stroke="#1a1a1a" stroke-width="0.9"/>
<text x="408.80" y="32.68" font-size="4.5" font-weight="bold" text-anchor="end" stroke="#111" stroke-width="0.05">0.8</text>
<line x1="409.10" y1="17.90" x2="411.00" y2="17.90" stroke="#1a1a1a" stroke-width="0.9"/>
<text x="408.80" y="19.80" font-size="4.5" font-weight="bold" text-anchor="end" stroke="#111" stroke-width="0.05">1.0</text>
<line x1="411.00" y1="82.30" x2="411.00" y2="84.00" stroke="#1a1a1a" stroke-width="0.9"/>
<text x="411.00" y="89.30" font-size="4.5" font-weight="bold" text-anchor="middle" stroke="#111" stroke-width="0.05">0</text>
<line x1="435.15" y1="82.30" x2="435.15" y2="84.00" stroke="#1a1a1a" stroke-width="0.9"/>
<text x="435.15" y="89.30" font-size="4.5" font-weight="bold" text-anchor="middle" stroke="#111" stroke-width="0.05">5</text>
<line x1="459.30" y1="82.30" x2="459.30" y2="84.00" stroke="#1a1a1a" stroke-width="0.9"/>
<text x="459.30" y="89.30" font-size="4.5" font-weight="bold" text-anchor="middle" stroke="#111" stroke-width="0.05">10</text>
<line x1="483.45" y1="82.30" x2="483.45" y2="84.00" stroke="#1a1a1a" stroke-width="0.9"/>
<text x="483.45" y="89.30" font-size="4.5" font-weight="bold" text-anchor="middle" stroke="#111" stroke-width="0.05">15</text>
<line x1="507.60" y1="82.30" x2="507.60" y2="84.00" stroke="#1a1a1a" stroke-width="0.9"/>
<text x="507.60" y="89.30" font-size="4.5" font-weight="bold" text-anchor="middle" stroke="#111" stroke-width="0.05">20</text>
<text x="451.60" y="96.50" font-size="5.4" font-weight="bold" textLength="15.20" lengthAdjust="spacingAndGlyphs" stroke="#111" stroke-width="0.1">Hours</text>
<text transform="translate(399.00,49.75) rotate(-90)" font-size="5.8" stroke="#111" stroke-width="0.08" text-anchor="middle" textLength="54.4" lengthAdjust="spacingAndGlyphs">Normalized to control</text>
<path d="M411.00,17.90 L420.66,29.49 L430.32,37.54 L449.64,29.49 L488.28,50.74" fill="none" stroke="#1a1a1a" stroke-width="1.05" stroke-dasharray="2.2,1.5"/>
<path d="M411.00,17.90 L420.66,39.80 L430.32,59.44 L449.64,61.05 L488.28,70.06" fill="none" stroke="#1a1a1a" stroke-width="1.15"/>
<line x1="409.70" y1="17.90" x2="412.30" y2="17.90" stroke="#1a1a1a" stroke-width="1.3"/>
<line x1="420.66" y1="25.31" x2="420.66" y2="33.68" stroke="#1a1a1a" stroke-width="0.9"/>
<line x1="419.66" y1="25.31" x2="421.66" y2="25.31" stroke="#1a1a1a" stroke-width="0.7"/>
<line x1="419.66" y1="33.68" x2="421.66" y2="33.68" stroke="#1a1a1a" stroke-width="0.7"/>
<line x1="419.36" y1="29.49" x2="421.96" y2="29.49" stroke="#1a1a1a" stroke-width="1.3"/>
<line x1="430.32" y1="35.61" x2="430.32" y2="39.47" stroke="#1a1a1a" stroke-width="0.9"/>
<line x1="429.32" y1="35.61" x2="431.32" y2="35.61" stroke="#1a1a1a" stroke-width="0.7"/>
<line x1="429.32" y1="39.47" x2="431.32" y2="39.47" stroke="#1a1a1a" stroke-width="0.7"/>
<line x1="429.02" y1="37.54" x2="431.62" y2="37.54" stroke="#1a1a1a" stroke-width="1.3"/>
<line x1="449.64" y1="26.92" x2="449.64" y2="32.07" stroke="#1a1a1a" stroke-width="0.9"/>
<line x1="448.64" y1="26.92" x2="450.64" y2="26.92" stroke="#1a1a1a" stroke-width="0.7"/>
<line x1="448.64" y1="32.07" x2="450.64" y2="32.07" stroke="#1a1a1a" stroke-width="0.7"/>
<line x1="448.34" y1="29.49" x2="450.94" y2="29.49" stroke="#1a1a1a" stroke-width="1.3"/>
<line x1="488.28" y1="49.78" x2="488.28" y2="51.71" stroke="#1a1a1a" stroke-width="0.9"/>
<line x1="487.28" y1="49.78" x2="489.28" y2="49.78" stroke="#1a1a1a" stroke-width="0.7"/>
<line x1="487.28" y1="51.71" x2="489.28" y2="51.71" stroke="#1a1a1a" stroke-width="0.7"/>
<line x1="486.98" y1="50.74" x2="489.58" y2="50.74" stroke="#1a1a1a" stroke-width="1.3"/>
<circle cx="411.00" cy="17.90" r="1.05" fill="#1a1a1a"/>
<line x1="420.66" y1="34.00" x2="420.66" y2="45.59" stroke="#1a1a1a" stroke-width="0.9"/>
<line x1="419.66" y1="34.00" x2="421.66" y2="34.00" stroke="#1a1a1a" stroke-width="0.7"/>
<line x1="419.66" y1="45.59" x2="421.66" y2="45.59" stroke="#1a1a1a" stroke-width="0.7"/>
<circle cx="420.66" cy="39.80" r="1.05" fill="#1a1a1a"/>
<line x1="430.32" y1="58.79" x2="430.32" y2="60.08" stroke="#1a1a1a" stroke-width="0.9"/>
<line x1="429.32" y1="58.79" x2="431.32" y2="58.79" stroke="#1a1a1a" stroke-width="0.7"/>
<line x1="429.32" y1="60.08" x2="431.32" y2="60.08" stroke="#1a1a1a" stroke-width="0.7"/>
<circle cx="430.32" cy="59.44" r="1.05" fill="#1a1a1a"/>
<line x1="449.64" y1="59.76" x2="449.64" y2="62.34" stroke="#1a1a1a" stroke-width="0.9"/>
<line x1="448.64" y1="59.76" x2="450.64" y2="59.76" stroke="#1a1a1a" stroke-width="0.7"/>
<line x1="448.64" y1="62.34" x2="450.64" y2="62.34" stroke="#1a1a1a" stroke-width="0.7"/>
<circle cx="449.64" cy="61.05" r="1.05" fill="#1a1a1a"/>
<line x1="488.28" y1="68.78" x2="488.28" y2="71.35" stroke="#1a1a1a" stroke-width="0.9"/>
<line x1="487.28" y1="68.78" x2="489.28" y2="68.78" stroke="#1a1a1a" stroke-width="0.7"/>
<line x1="487.28" y1="71.35" x2="489.28" y2="71.35" stroke="#1a1a1a" stroke-width="0.7"/>
<circle cx="488.28" cy="70.06" r="1.05" fill="#1a1a1a"/>
<path d="M491.3,25.8H498.7" fill="none" stroke="#333" stroke-width="0.9" stroke-dasharray="1,1"/>
<line x1="493.80" y1="25.80" x2="496.20" y2="25.80" stroke="#333" stroke-width="1.3"/>
<text x="501.80" y="27.40" font-size="5.1" textLength="17.20" lengthAdjust="spacingAndGlyphs" fill="#333">ALL-50</text>
<line x1="491.30" y1="34.60" x2="498.70" y2="34.60" stroke="#333" stroke-width="1.1"/>
<circle cx="495" cy="34.6" r="1.05" fill="#222"/>
<text x="501.80" y="36.20" font-size="5.1" textLength="17.20" lengthAdjust="spacingAndGlyphs" fill="#333">ALL-54</text>
<text x="390.30" y="109.50" font-size="10.6" font-weight="bold" stroke="#111" stroke-width="0.3">F</text>
<text x="424.00" y="110.70" font-size="6.4" font-weight="bold" stroke="#111" stroke-width="0.08" textLength="69.7" lengthAdjust="spacingAndGlyphs"><tspan font-style="italic">BIM</tspan> expression <tspan font-style="italic">in vitro</tspan></text>
<path d="M411.0,118.7V183.3H508.1" fill="none" stroke="#1a1a1a" stroke-width="1.2"/>
<line x1="409.10" y1="183.30" x2="411.00" y2="183.30" stroke="#1a1a1a" stroke-width="0.9"/>
<text x="408.80" y="185.20" font-size="4.5" font-weight="bold" text-anchor="end" stroke="#111" stroke-width="0.05">0</text>
<line x1="409.10" y1="167.28" x2="411.00" y2="167.28" stroke="#1a1a1a" stroke-width="0.9"/>
<text x="408.80" y="169.18" font-size="4.5" font-weight="bold" text-anchor="end" stroke="#111" stroke-width="0.05">2</text>
<line x1="409.10" y1="151.25" x2="411.00" y2="151.25" stroke="#1a1a1a" stroke-width="0.9"/>
<text x="408.80" y="153.15" font-size="4.5" font-weight="bold" text-anchor="end" stroke="#111" stroke-width="0.05">4</text>
<line x1="409.10" y1="135.23" x2="411.00" y2="135.23" stroke="#1a1a1a" stroke-width="0.9"/>
<text x="408.80" y="137.13" font-size="4.5" font-weight="bold" text-anchor="end" stroke="#111" stroke-width="0.05">6</text>
<line x1="409.10" y1="119.20" x2="411.00" y2="119.20" stroke="#1a1a1a" stroke-width="0.9"/>
<text x="408.80" y="121.10" font-size="4.5" font-weight="bold" text-anchor="end" stroke="#111" stroke-width="0.05">8</text>
<line x1="411.00" y1="183.30" x2="411.00" y2="185.00" stroke="#1a1a1a" stroke-width="0.9"/>
<text x="411.00" y="190.30" font-size="4.5" font-weight="bold" text-anchor="middle" stroke="#111" stroke-width="0.05">0</text>
<line x1="435.15" y1="183.30" x2="435.15" y2="185.00" stroke="#1a1a1a" stroke-width="0.9"/>
<text x="435.15" y="190.30" font-size="4.5" font-weight="bold" text-anchor="middle" stroke="#111" stroke-width="0.05">5</text>
<line x1="459.30" y1="183.30" x2="459.30" y2="185.00" stroke="#1a1a1a" stroke-width="0.9"/>
<text x="459.30" y="190.30" font-size="4.5" font-weight="bold" text-anchor="middle" stroke="#111" stroke-width="0.05">10</text>
<line x1="483.45" y1="183.30" x2="483.45" y2="185.00" stroke="#1a1a1a" stroke-width="0.9"/>
<text x="483.45" y="190.30" font-size="4.5" font-weight="bold" text-anchor="middle" stroke="#111" stroke-width="0.05">15</text>
<line x1="507.60" y1="183.30" x2="507.60" y2="185.00" stroke="#1a1a1a" stroke-width="0.9"/>
<text x="507.60" y="190.30" font-size="4.5" font-weight="bold" text-anchor="middle" stroke="#111" stroke-width="0.05">20</text>
<text x="451.60" y="197.50" font-size="5.4" font-weight="bold" textLength="15.20" lengthAdjust="spacingAndGlyphs" stroke="#111" stroke-width="0.1">Hours</text>
<text transform="translate(399.00,150.90) rotate(-90)" font-size="5.8" stroke="#111" stroke-width="0.08" text-anchor="middle" textLength="54.4" lengthAdjust="spacingAndGlyphs">Normalized to control</text>
<path d="M411.00,175.29 L420.66,172.88 L430.32,174.09 L449.64,176.09 L488.28,174.09" fill="none" stroke="#1a1a1a" stroke-width="1.05" stroke-dasharray="2.2,1.5"/>
<path d="M411.00,175.29 L420.66,167.28 L430.32,166.47 L449.64,166.47 L488.28,138.75" fill="none" stroke="#1a1a1a" stroke-width="1.15"/>
<line x1="409.70" y1="175.29" x2="412.30" y2="175.29" stroke="#1a1a1a" stroke-width="1.3"/>
<line x1="420.66" y1="172.24" x2="420.66" y2="173.52" stroke="#1a1a1a" stroke-width="0.9"/>
<line x1="419.66" y1="172.24" x2="421.66" y2="172.24" stroke="#1a1a1a" stroke-width="0.7"/>
<line x1="419.66" y1="173.52" x2="421.66" y2="173.52" stroke="#1a1a1a" stroke-width="0.7"/>
<line x1="419.36" y1="172.88" x2="421.96" y2="172.88" stroke="#1a1a1a" stroke-width="1.3"/>
<line x1="430.32" y1="170.64" x2="430.32" y2="177.53" stroke="#1a1a1a" stroke-width="0.9"/>
<line x1="429.32" y1="170.64" x2="431.32" y2="170.64" stroke="#1a1a1a" stroke-width="0.7"/>
<line x1="429.32" y1="177.53" x2="431.32" y2="177.53" stroke="#1a1a1a" stroke-width="0.7"/>
<line x1="429.02" y1="174.09" x2="431.62" y2="174.09" stroke="#1a1a1a" stroke-width="1.3"/>
<line x1="449.64" y1="174.89" x2="449.64" y2="177.29" stroke="#1a1a1a" stroke-width="0.9"/>
<line x1="448.64" y1="174.89" x2="450.64" y2="174.89" stroke="#1a1a1a" stroke-width="0.7"/>
<line x1="448.64" y1="177.29" x2="450.64" y2="177.29" stroke="#1a1a1a" stroke-width="0.7"/>
<line x1="448.34" y1="176.09" x2="450.94" y2="176.09" stroke="#1a1a1a" stroke-width="1.3"/>
<line x1="488.28" y1="173.44" x2="488.28" y2="174.73" stroke="#1a1a1a" stroke-width="0.9"/>
<line x1="487.28" y1="173.44" x2="489.28" y2="173.44" stroke="#1a1a1a" stroke-width="0.7"/>
<line x1="487.28" y1="174.73" x2="489.28" y2="174.73" stroke="#1a1a1a" stroke-width="0.7"/>
<line x1="486.98" y1="174.09" x2="489.58" y2="174.09" stroke="#1a1a1a" stroke-width="1.3"/>
<circle cx="411.00" cy="175.29" r="1.05" fill="#1a1a1a"/>
<line x1="420.66" y1="166.47" x2="420.66" y2="168.08" stroke="#1a1a1a" stroke-width="0.9"/>
<line x1="419.66" y1="166.47" x2="421.66" y2="166.47" stroke="#1a1a1a" stroke-width="0.7"/>
<line x1="419.66" y1="168.08" x2="421.66" y2="168.08" stroke="#1a1a1a" stroke-width="0.7"/>
<circle cx="420.66" cy="167.28" r="1.05" fill="#1a1a1a"/>
<line x1="430.32" y1="165.67" x2="430.32" y2="167.28" stroke="#1a1a1a" stroke-width="0.9"/>
<line x1="429.32" y1="165.67" x2="431.32" y2="165.67" stroke="#1a1a1a" stroke-width="0.7"/>
<line x1="429.32" y1="167.28" x2="431.32" y2="167.28" stroke="#1a1a1a" stroke-width="0.7"/>
<circle cx="430.32" cy="166.47" r="1.05" fill="#1a1a1a"/>
<line x1="449.64" y1="165.67" x2="449.64" y2="167.28" stroke="#1a1a1a" stroke-width="0.9"/>
<line x1="448.64" y1="165.67" x2="450.64" y2="165.67" stroke="#1a1a1a" stroke-width="0.7"/>
<line x1="448.64" y1="167.28" x2="450.64" y2="167.28" stroke="#1a1a1a" stroke-width="0.7"/>
<circle cx="449.64" cy="166.47" r="1.05" fill="#1a1a1a"/>
<line x1="488.28" y1="133.54" x2="488.28" y2="143.96" stroke="#1a1a1a" stroke-width="0.9"/>
<line x1="487.28" y1="133.54" x2="489.28" y2="133.54" stroke="#1a1a1a" stroke-width="0.7"/>
<line x1="487.28" y1="143.96" x2="489.28" y2="143.96" stroke="#1a1a1a" stroke-width="0.7"/>
<circle cx="488.28" cy="138.75" r="1.05" fill="#1a1a1a"/>
<path d="M491.3,126.0H498.7" fill="none" stroke="#333" stroke-width="0.9" stroke-dasharray="1,1"/>
<line x1="493.80" y1="126.00" x2="496.20" y2="126.00" stroke="#333" stroke-width="1.3"/>
<text x="501.80" y="127.60" font-size="5.1" textLength="17.20" lengthAdjust="spacingAndGlyphs" fill="#333">ALL-50</text>
<line x1="491.30" y1="134.60" x2="498.70" y2="134.60" stroke="#333" stroke-width="1.1"/>
<circle cx="495" cy="134.6" r="1.05" fill="#222"/>
<text x="501.80" y="136.20" font-size="5.1" textLength="17.20" lengthAdjust="spacingAndGlyphs" fill="#333">ALL-54</text>
<text x="390.90" y="216.10" font-size="10.8" font-weight="bold" stroke="#111" stroke-width="0.3">G</text>
<text x="421.90" y="217.80" font-size="6.4" font-weight="bold" stroke="#111" stroke-width="0.08" textLength="73.0" lengthAdjust="spacingAndGlyphs"><tspan font-style="italic">GILZ</tspan> expression <tspan font-style="italic">in vitro</tspan></text>
<path d="M411.0,224.8V289.9H508.1" fill="none" stroke="#1a1a1a" stroke-width="1.2"/>
<line x1="409.10" y1="289.90" x2="411.00" y2="289.90" stroke="#1a1a1a" stroke-width="0.9"/>
<text x="408.80" y="291.80" font-size="4.5" font-weight="bold" text-anchor="end" stroke="#111" stroke-width="0.05">0</text>
<line x1="409.10" y1="276.98" x2="411.00" y2="276.98" stroke="#1a1a1a" stroke-width="0.9"/>
<text x="408.80" y="278.88" font-size="4.5" font-weight="bold" text-anchor="end" stroke="#111" stroke-width="0.05">2</text>
<line x1="409.10" y1="264.06" x2="411.00" y2="264.06" stroke="#1a1a1a" stroke-width="0.9"/>
<text x="408.80" y="265.96" font-size="4.5" font-weight="bold" text-anchor="end" stroke="#111" stroke-width="0.05">4</text>
<line x1="409.10" y1="251.14" x2="411.00" y2="251.14" stroke="#1a1a1a" stroke-width="0.9"/>
<text x="408.80" y="253.04" font-size="4.5" font-weight="bold" text-anchor="end" stroke="#111" stroke-width="0.05">6</text>
<line x1="409.10" y1="238.22" x2="411.00" y2="238.22" stroke="#1a1a1a" stroke-width="0.9"/>
<text x="408.80" y="240.12" font-size="4.5" font-weight="bold" text-anchor="end" stroke="#111" stroke-width="0.05">8</text>
<line x1="409.10" y1="225.30" x2="411.00" y2="225.30" stroke="#1a1a1a" stroke-width="0.9"/>
<text x="408.80" y="227.20" font-size="4.5" font-weight="bold" text-anchor="end" stroke="#111" stroke-width="0.05">10</text>
<line x1="411.00" y1="289.90" x2="411.00" y2="291.60" stroke="#1a1a1a" stroke-width="0.9"/>
<text x="411.00" y="296.90" font-size="4.5" font-weight="bold" text-anchor="middle" stroke="#111" stroke-width="0.05">0</text>
<line x1="435.15" y1="289.90" x2="435.15" y2="291.60" stroke="#1a1a1a" stroke-width="0.9"/>
<text x="435.15" y="296.90" font-size="4.5" font-weight="bold" text-anchor="middle" stroke="#111" stroke-width="0.05">5</text>
<line x1="459.30" y1="289.90" x2="459.30" y2="291.60" stroke="#1a1a1a" stroke-width="0.9"/>
<text x="459.30" y="296.90" font-size="4.5" font-weight="bold" text-anchor="middle" stroke="#111" stroke-width="0.05">10</text>
<line x1="483.45" y1="289.90" x2="483.45" y2="291.60" stroke="#1a1a1a" stroke-width="0.9"/>
<text x="483.45" y="296.90" font-size="4.5" font-weight="bold" text-anchor="middle" stroke="#111" stroke-width="0.05">15</text>
<line x1="507.60" y1="289.90" x2="507.60" y2="291.60" stroke="#1a1a1a" stroke-width="0.9"/>
<text x="507.60" y="296.90" font-size="4.5" font-weight="bold" text-anchor="middle" stroke="#111" stroke-width="0.05">20</text>
<text x="451.60" y="304.10" font-size="5.4" font-weight="bold" textLength="15.20" lengthAdjust="spacingAndGlyphs" stroke="#111" stroke-width="0.1">Hours</text>
<text transform="translate(399.00,257.25) rotate(-90)" font-size="5.8" stroke="#111" stroke-width="0.08" text-anchor="middle" textLength="54.4" lengthAdjust="spacingAndGlyphs">Normalized to control</text>
<path d="M411.00,283.44 L420.66,251.14 L430.32,253.08 L449.64,254.37 L488.28,248.56" fill="none" stroke="#1a1a1a" stroke-width="1.05" stroke-dasharray="2.2,1.5"/>
<path d="M411.00,283.44 L420.66,249.33 L430.32,245.65 L449.64,237.83 L488.28,240.61" fill="none" stroke="#1a1a1a" stroke-width="1.15"/>
<line x1="409.70" y1="283.44" x2="412.30" y2="283.44" stroke="#1a1a1a" stroke-width="1.3"/>
<line x1="420.66" y1="249.20" x2="420.66" y2="253.08" stroke="#1a1a1a" stroke-width="0.9"/>
<line x1="419.66" y1="249.20" x2="421.66" y2="249.20" stroke="#1a1a1a" stroke-width="0.7"/>
<line x1="419.66" y1="253.08" x2="421.66" y2="253.08" stroke="#1a1a1a" stroke-width="0.7"/>
<line x1="419.36" y1="251.14" x2="421.96" y2="251.14" stroke="#1a1a1a" stroke-width="1.3"/>
<line x1="430.32" y1="252.11" x2="430.32" y2="254.05" stroke="#1a1a1a" stroke-width="0.9"/>
<line x1="429.32" y1="252.11" x2="431.32" y2="252.11" stroke="#1a1a1a" stroke-width="0.7"/>
<line x1="429.32" y1="254.05" x2="431.32" y2="254.05" stroke="#1a1a1a" stroke-width="0.7"/>
<line x1="429.02" y1="253.08" x2="431.62" y2="253.08" stroke="#1a1a1a" stroke-width="1.3"/>
<line x1="449.64" y1="252.43" x2="449.64" y2="256.31" stroke="#1a1a1a" stroke-width="0.9"/>
<line x1="448.64" y1="252.43" x2="450.64" y2="252.43" stroke="#1a1a1a" stroke-width="0.7"/>
<line x1="448.64" y1="256.31" x2="450.64" y2="256.31" stroke="#1a1a1a" stroke-width="0.7"/>
<line x1="448.34" y1="254.37" x2="450.94" y2="254.37" stroke="#1a1a1a" stroke-width="1.3"/>
<line x1="488.28" y1="246.30" x2="488.28" y2="250.82" stroke="#1a1a1a" stroke-width="0.9"/>
<line x1="487.28" y1="246.30" x2="489.28" y2="246.30" stroke="#1a1a1a" stroke-width="0.7"/>
<line x1="487.28" y1="250.82" x2="489.28" y2="250.82" stroke="#1a1a1a" stroke-width="0.7"/>
<line x1="486.98" y1="248.56" x2="489.58" y2="248.56" stroke="#1a1a1a" stroke-width="1.3"/>
<circle cx="411.00" cy="283.44" r="1.05" fill="#1a1a1a"/>
<line x1="420.66" y1="243.71" x2="420.66" y2="254.95" stroke="#1a1a1a" stroke-width="0.9"/>
<line x1="419.66" y1="243.71" x2="421.66" y2="243.71" stroke="#1a1a1a" stroke-width="0.7"/>
<line x1="419.66" y1="254.95" x2="421.66" y2="254.95" stroke="#1a1a1a" stroke-width="0.7"/>
<circle cx="420.66" cy="249.33" r="1.05" fill="#1a1a1a"/>
<line x1="430.32" y1="243.71" x2="430.32" y2="247.59" stroke="#1a1a1a" stroke-width="0.9"/>
<line x1="429.32" y1="243.71" x2="431.32" y2="243.71" stroke="#1a1a1a" stroke-width="0.7"/>
<line x1="429.32" y1="247.59" x2="431.32" y2="247.59" stroke="#1a1a1a" stroke-width="0.7"/>
<circle cx="430.32" cy="245.65" r="1.05" fill="#1a1a1a"/>
<line x1="449.64" y1="232.21" x2="449.64" y2="243.45" stroke="#1a1a1a" stroke-width="0.9"/>
<line x1="448.64" y1="232.21" x2="450.64" y2="232.21" stroke="#1a1a1a" stroke-width="0.7"/>
<line x1="448.64" y1="243.45" x2="450.64" y2="243.45" stroke="#1a1a1a" stroke-width="0.7"/>
<circle cx="449.64" cy="237.83" r="1.05" fill="#1a1a1a"/>
<line x1="488.28" y1="239.00" x2="488.28" y2="242.23" stroke="#1a1a1a" stroke-width="0.9"/>
<line x1="487.28" y1="239.00" x2="489.28" y2="239.00" stroke="#1a1a1a" stroke-width="0.7"/>
<line x1="487.28" y1="242.23" x2="489.28" y2="242.23" stroke="#1a1a1a" stroke-width="0.7"/>
<circle cx="488.28" cy="240.61" r="1.05" fill="#1a1a1a"/>
<path d="M491.3,230.6H498.7" fill="none" stroke="#333" stroke-width="0.9" stroke-dasharray="1,1"/>
<line x1="493.80" y1="230.60" x2="496.20" y2="230.60" stroke="#333" stroke-width="1.3"/>
<text x="501.80" y="232.20" font-size="5.1" textLength="17.20" lengthAdjust="spacingAndGlyphs" fill="#333">ALL-50</text>
<line x1="491.30" y1="239.40" x2="498.70" y2="239.40" stroke="#333" stroke-width="1.1"/>
<circle cx="495" cy="239.4" r="1.05" fill="#222"/>
<text x="501.80" y="241.00" font-size="5.1" textLength="17.20" lengthAdjust="spacingAndGlyphs" fill="#333">ALL-54</text>
</g>
</svg>
</body></html>
